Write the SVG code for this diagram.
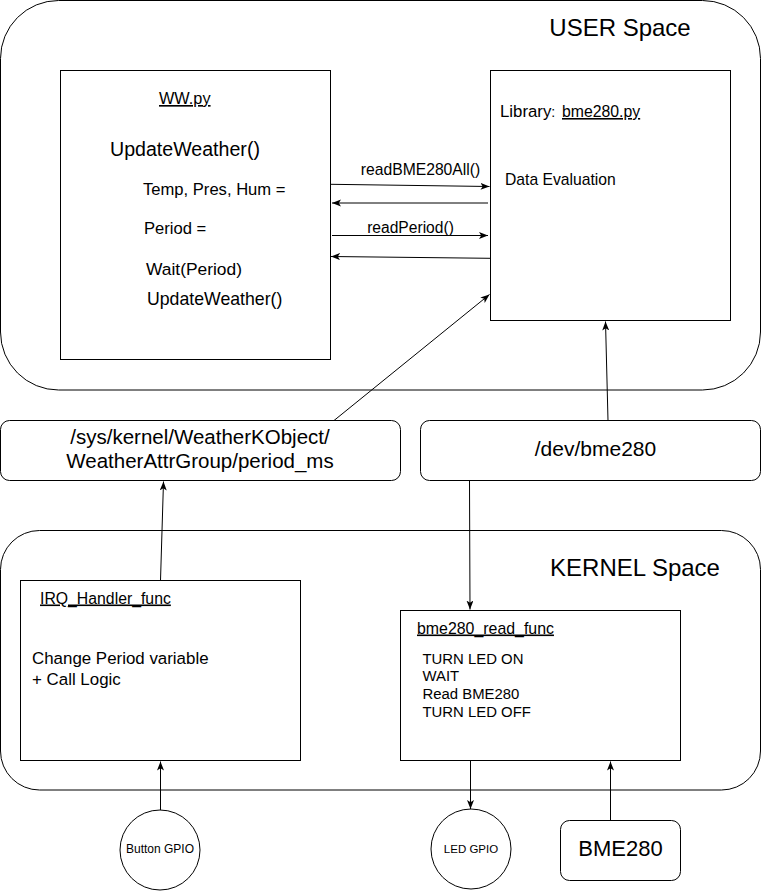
<svg xmlns="http://www.w3.org/2000/svg" width="761" height="891" viewBox="0 0 761 891">
<style>
  .box { fill: #ffffff; stroke: #000000; stroke-width: 1; }
  .t { font-family: "Liberation Sans", Arial, Helvetica, sans-serif; fill: #000000; }
  .u { text-decoration: underline; }
  .c { stroke: #000000; stroke-width: 1; fill: none; }
</style>
<defs>
  <marker id="arr" markerUnits="userSpaceOnUse" markerWidth="10" markerHeight="8" refX="9" refY="3.5" orient="auto">
    <path d="M0,0 L9,3.5 L0,7 L2.2,3.5 Z" fill="#000000"/>
  </marker>
</defs>
<rect x="0" y="0" width="761" height="891" fill="#ffffff"/>

<g id="user-space">
  <rect class="box" x="0.5" y="0.5" width="760" height="389.5" rx="58" ry="58"/>
  <text class="t" x="620" y="35.5" font-size="24" text-anchor="middle">USER Space</text>
</g>

<g id="kernel-space">
  <rect class="box" x="0.5" y="530.5" width="760" height="259.5" rx="39" ry="39"/>
  <text class="t" x="635" y="576" font-size="24" text-anchor="middle">KERNEL Space</text>
</g>

<g id="ww-py">
  <rect class="box" x="60.5" y="70.5" width="270" height="289"/>
  <text class="t u" x="159" y="104" font-size="16.3">WW.py</text>
  <text class="t" x="110" y="155.5" font-size="19.6">UpdateWeather()</text>
  <text class="t" x="143" y="194.5" font-size="16.6">Temp, Pres, Hum =</text>
  <text class="t" x="144" y="233.5" font-size="16.6">Period =</text>
  <text class="t" x="146" y="274.5" font-size="17.4">Wait(Period)</text>
  <text class="t" x="147" y="304.5" font-size="17.7">UpdateWeather()</text>
</g>

<g id="bme280-py">
  <rect class="box" x="490.5" y="70.5" width="240" height="250"/>
  <text class="t" x="500" y="117" font-size="16.8">Library<tspan font-size="14">:</tspan></text>
  <text class="t u" x="562" y="117" font-size="15.8">bme280.py</text>
  <text class="t" x="505" y="184.5" font-size="15.7">Data Evaluation</text>
</g>

<g id="sysfs">
  <rect class="box" x="0.5" y="420.5" width="400" height="60" rx="9" ry="9"/>
  <text class="t" x="200" y="443.5" font-size="20.5" text-anchor="middle">/sys/kernel/WeatherKObject/</text>
  <text class="t" x="200" y="467.5" font-size="20.5" text-anchor="middle">WeatherAttrGroup/period_ms</text>
</g>

<g id="dev-bme280">
  <rect class="box" x="420.5" y="420.5" width="340" height="60" rx="9" ry="9"/>
  <text class="t" x="595.5" y="456" font-size="21" text-anchor="middle">/dev/bme280</text>
</g>

<g id="irq-handler">
  <rect class="box" x="20.5" y="580.5" width="280" height="180"/>
  <text class="t u" x="40" y="603.5" font-size="15.8">IRQ_Handler_func</text>
  <text class="t" x="32" y="664" font-size="16.9">Change Period variable</text>
  <text class="t" x="32" y="685" font-size="16.9">+ Call Logic</text>
</g>

<g id="bme280-read-func">
  <rect class="box" x="400.5" y="610.5" width="280" height="150"/>
  <text class="t u" x="417" y="633.5" font-size="15.9">bme280_read_func</text>
  <text class="t" x="422.5" y="663.5" font-size="14.9">TURN LED ON</text>
  <text class="t" x="422.5" y="681" font-size="14.9">WAIT</text>
  <text class="t" x="422.5" y="699" font-size="14.9">Read BME280</text>
  <text class="t" x="422.5" y="716.8" font-size="14.9">TURN LED OFF</text>
</g>

<g id="button-gpio">
  <circle class="box" cx="160" cy="850" r="40"/>
  <text class="t" x="160" y="852.8" font-size="12" text-anchor="middle">Button GPIO</text>
</g>

<g id="led-gpio">
  <circle class="box" cx="471" cy="849" r="40"/>
  <text class="t" x="471" y="852.8" font-size="11.5" text-anchor="middle">LED GPIO</text>
</g>

<g id="bme280-sensor">
  <rect class="box" x="560.5" y="820.5" width="120" height="60" rx="9" ry="9"/>
  <text class="t" x="620.5" y="856" font-size="22" text-anchor="middle">BME280</text>
</g>

<g id="connectors">
  <path class="c" d="M331,184.3 L489.5,186.5" marker-end="url(#arr)"/>
  <text class="t" x="420.5" y="174.5" font-size="15.7" text-anchor="middle">readBME280All()</text>
  <path class="c" d="M488,203 L332,203" marker-end="url(#arr)"/>
  <path class="c" d="M332,235.5 L488,235.5" marker-end="url(#arr)"/>
  <text class="t" x="410.5" y="233" font-size="15.6" text-anchor="middle">readPeriod()</text>
  <path class="c" d="M490,258.3 L331,256.5" marker-end="url(#arr)"/>
  <path class="c" d="M334,420.5 L489.5,294.5" marker-end="url(#arr)"/>
  <path class="c" d="M608,420.5 L605.5,321.5" marker-end="url(#arr)"/>
  <path class="c" d="M469.5,480.5 L470,609.5" marker-end="url(#arr)"/>
  <path class="c" d="M160.5,580.5 L163.5,481.5" marker-end="url(#arr)"/>
  <path class="c" d="M160.5,810 L160.5,761.5" marker-end="url(#arr)"/>
  <path class="c" d="M470.5,760.5 L470.5,809" marker-end="url(#arr)"/>
  <path class="c" d="M610.5,820.5 L610.5,761.5" marker-end="url(#arr)"/>
</g>
</svg>
